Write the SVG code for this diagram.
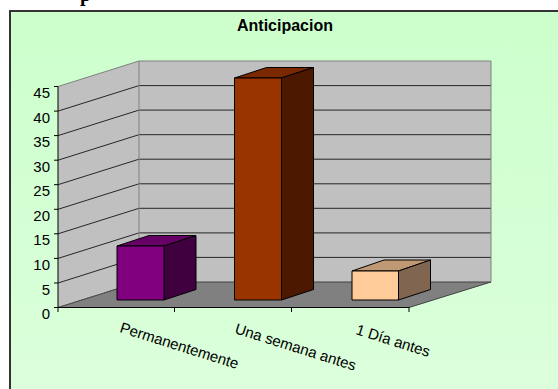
<svg xmlns="http://www.w3.org/2000/svg" width="558" height="389" viewBox="0 0 558 389">
<defs>
<linearGradient id="bg" x1="0" y1="0" x2="0" y2="1">
<stop offset="0" stop-color="#ccffcc"/>
<stop offset="1" stop-color="#ddffdd"/>
</linearGradient>
<style>
.ax{font-family:"Liberation Sans",Arial,sans-serif;font-size:15px;fill:#000}
.grid{stroke:#262626;stroke-width:1;fill:none}
.edge{stroke:#808080;stroke-width:1;fill:none}
.bar{stroke:#000;stroke-width:1;stroke-linejoin:round}
</style>
</defs>
<rect x="0" y="0" width="558" height="389" fill="#fff"/>
<text x="80" y="1" font-family="'Liberation Serif','Times New Roman',serif" font-weight="bold" font-size="20">p</text>
<rect x="10" y="11" width="600" height="420" fill="url(#bg)" stroke="#333" stroke-width="2"/>
<text x="285" y="31" text-anchor="middle" font-family="'Liberation Sans',Arial,sans-serif" font-weight="bold" font-size="16">Anticipacion</text>

<g id="walls">
<polygon points="139,61 491,61 491,282 139,282" fill="#c0c0c0"/>
<polygon points="58,86.5 139,61 139,282 58,307.5" fill="#c0c0c0"/>
<polygon points="58,307.5 139,282 491,282 409,307.5" fill="#808080" stroke="#404040" stroke-width="1"/>
</g>
<g id="gridlines">
<path class="grid" d="M58,283 L139,257.4 L491,257.4 M58,258.4 L139,232.9 L491,232.9 M58,233.8 L139,208.3 L491,208.3 M58,209.3 L139,183.8 L491,183.8 M58,184.7 L139,159.2 L491,159.2 M58,160.2 L139,134.7 L491,134.7 M58,135.6 L139,110.1 L491,110.1 M58,111.1 L139,85.6 L491,85.6"/>
<path class="edge" d="M58,86.5 L139,61 L491,61 L491,282 M139,61 L139,282"/>
<path d="M58,307.5 L139,282" stroke="#555" stroke-width="1" stroke-dasharray="2,1"/>
</g>
<g id="axes" stroke="#000" stroke-width="1" fill="none">
<path d="M58,86.5 L58,307.5 L409,307.5"/>
<path d="M54,86.5 H58 M54,111.1 H58 M54,135.6 H58 M54,160.2 H58 M54,184.7 H58 M54,209.3 H58 M54,233.8 H58 M54,258.4 H58 M54,283 H58 M54,307.5 H58"/>
<path d="M58,307.5 V312 M174.5,307.5 V312 M291.5,307.5 V312 M409,307.5 V312"/>
</g>
<g id="yaxis-labels" class="ax" text-anchor="end">
<text x="50" y="98">45</text>
<text x="50" y="122.6">40</text>
<text x="50" y="147.1">35</text>
<text x="50" y="171.7">30</text>
<text x="50" y="196.2">25</text>
<text x="50" y="220.8">20</text>
<text x="50" y="245.3">15</text>
<text x="50" y="269.9">10</text>
<text x="50" y="294.5">5</text>
<text x="50" y="319">0</text>
</g>

<g id="bar-permanentemente" class="bar">
<polygon points="117,246 149,235.5 196,235.5 164,246" fill="#660066"/>
<polygon points="164,246 196,235.5 196,289.5 164,300" fill="#400040"/>
<rect x="117" y="246" width="47" height="54" fill="#800080"/>
</g>
<g id="bar-una-semana-antes" class="bar">
<polygon points="234.5,78 266.5,67.5 313.5,67.5 281.5,78" fill="#7a2800"/>
<polygon points="281.5,78 313.5,67.5 313.5,289.5 281.5,300" fill="#4c1900"/>
<rect x="234.5" y="78" width="47" height="222" fill="#993300"/>
</g>
<g id="bar-1-dia-antes" class="bar">
<polygon points="352,271 384,260 430.5,260 398.5,271" fill="#bf9973"/>
<polygon points="398.5,271 430.5,260 430.5,289.5 398.5,300" fill="#806650"/>
<rect x="352" y="271" width="46.5" height="29" fill="#ffcc99"/>
</g>

<g id="category-labels" class="ax">
<text transform="translate(119,332) rotate(17.5)">Permanentemente</text>
<text transform="translate(234,333) rotate(17.5)">Una semana antes</text>
<text transform="translate(355,334) rotate(17.5)">1 Día antes</text>
</g>
</svg>
